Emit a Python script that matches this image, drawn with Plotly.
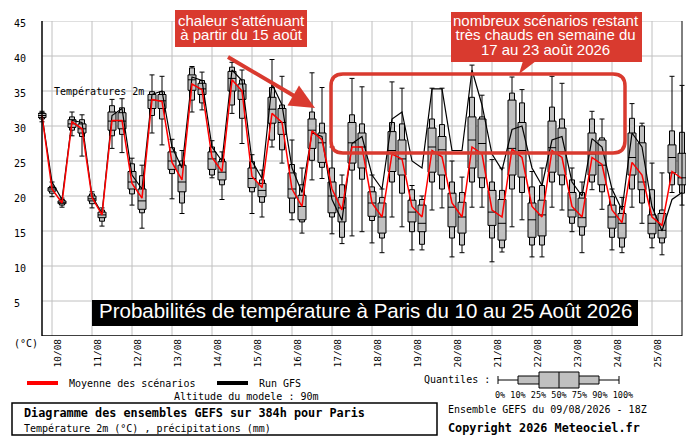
import plotly.graph_objects as go

# Ensemble GEFS du 09/08/2026 18Z, un quantile toutes les 6h (echeance en heures)
lead_h = list(range(0, 385, 6))

t_min = [30.6, 19.9, 18.4, 28.6, 25.7, 18.3, 15.7, 26.8, 26.2, 18.7, 15.4, 29.0, 27.3,
         19.6, 17.5, 32.0, 32.3, 22.6, 19.5, 31.8, 27.5, 17.5, 17.0, 27.0, 24.7, 16.6,
         14.7, 22.3, 22.5, 14.6, 13.2, 14.3, 14.9, 13.3, 11.9, 17.0, 15.6, 12.3, 12.3,
         18.0, 18.3, 11.3, 11.9, 18.4, 18.4, 10.6, 12.0, 15.6, 16.6, 11.3, 11.3, 18.4,
         18.0, 14.9, 11.9, 20.9, 18.1, 12.3, 11.9, 18.4, 16.1, 12.6, 11.6, 20.5, 18.7]
t_p10 = [31.0, 20.4, 18.7, 29.4, 28.5, 18.9, 16.4, 28.6, 28.8, 20.3, 17.6, 31.5, 31.0,
         23.2, 19.0, 33.7, 33.3, 23.0, 21.6, 33.0, 31.1, 20.6, 19.1, 28.0, 26.6, 17.6,
         16.3, 25.1, 24.1, 17.0, 14.1, 23.7, 22.4, 16.5, 14.0, 22.0, 20.4, 14.9, 13.1,
         22.0, 21.0, 14.0, 13.0, 22.0, 21.2, 14.0, 12.6, 21.0, 20.5, 13.0, 13.0, 22.0,
         21.6, 16.1, 14.4, 22.0, 20.6, 14.1, 12.7, 21.0, 19.0, 14.0, 13.3, 21.6, 20.4]
t_p25 = [31.2, 20.7, 18.9, 29.8, 29.0, 19.3, 16.9, 29.4, 29.6, 21.0, 18.1, 32.5, 32.5,
         23.8, 20.6, 35.1, 34.5, 23.8, 22.3, 35.0, 33.8, 21.2, 19.9, 30.4, 28.8, 19.7,
         16.6, 26.8, 24.8, 17.6, 16.3, 24.7, 24.0, 17.1, 14.7, 23.5, 23.0, 16.3, 14.9,
         23.4, 23.0, 15.6, 14.7, 24.0, 22.6, 15.8, 13.7, 23.0, 22.7, 14.1, 14.3, 23.4,
         23.0, 17.0, 15.6, 23.0, 21.6, 15.4, 14.0, 23.0, 20.9, 14.6, 14.0, 23.3, 21.6]
t_med = [31.5, 21.0, 19.1, 30.3, 29.6, 19.6, 17.3, 30.7, 30.7, 22.0, 19.3, 33.7, 33.6,
         25.0, 22.0, 36.6, 35.3, 25.3, 23.4, 36.8, 35.0, 22.5, 20.8, 32.4, 30.5, 21.0,
         18.5, 29.4, 27.6, 20.0, 18.3, 27.6, 27.0, 19.0, 17.0, 26.5, 25.3, 17.7, 16.1,
         27.0, 26.6, 18.4, 17.0, 28.0, 27.5, 17.7, 16.1, 26.8, 26.5, 16.6, 17.3, 26.9,
         26.3, 18.0, 16.9, 26.0, 24.4, 17.0, 16.1, 25.5, 22.0, 16.1, 15.1, 25.5, 22.6]
t_p75 = [31.8, 21.2, 19.3, 30.9, 30.3, 20.0, 17.7, 32.0, 31.9, 23.5, 21.0, 34.5, 34.5,
         26.3, 24.4, 37.3, 36.1, 26.3, 24.9, 37.8, 36.0, 24.0, 21.8, 34.1, 32.5, 23.3,
         20.1, 31.0, 29.0, 22.0, 19.8, 30.5, 29.0, 20.6, 19.0, 29.2, 28.0, 19.4, 18.7,
         29.7, 28.5, 20.4, 19.1, 31.3, 31.0, 20.8, 19.5, 33.7, 30.5, 19.0, 19.4, 30.7,
         29.7, 20.5, 19.7, 29.0, 28.0, 18.7, 17.5, 29.0, 27.6, 17.3, 17.5, 27.3, 26.1]
t_p90 = [31.9, 21.4, 19.5, 31.3, 30.9, 20.3, 18.0, 32.9, 32.6, 24.6, 22.9, 34.9, 34.9,
         26.9, 25.0, 38.3, 36.5, 27.0, 25.3, 38.4, 36.6, 24.9, 22.3, 35.5, 33.0, 24.5,
         21.6, 32.0, 30.4, 24.0, 21.6, 31.6, 30.3, 21.3, 19.8, 30.5, 30.3, 20.9, 19.5,
         31.0, 30.2, 22.0, 20.5, 34.1, 31.3, 22.0, 20.8, 34.7, 33.3, 21.3, 21.5, 32.7,
         31.0, 22.3, 20.5, 31.0, 28.3, 19.9, 18.5, 31.1, 30.0, 20.9, 18.0, 29.3, 29.1]
t_max = [32.1, 22.0, 19.7, 32.0, 31.6, 20.6, 18.3, 33.8, 33.9, 25.4, 24.4, 37.3, 37.1,
         28.1, 26.5, 38.5, 37.7, 27.9, 26.3, 39.1, 38.0, 25.9, 23.7, 39.5, 37.1, 28.0,
         24.0, 37.6, 35.5, 27.0, 23.0, 36.8, 35.6, 23.0, 21.0, 36.3, 35.4, 21.5, 20.0,
         35.4, 35.4, 25.0, 22.7, 38.7, 34.4, 25.2, 24.0, 37.0, 35.2, 23.5, 24.0, 37.1,
         36.1, 24.0, 22.0, 32.1, 31.0, 21.0, 19.8, 33.2, 30.4, 24.7, 23.3, 37.1, 35.8]

# moyenne des scenarios et run deterministe GFS
t_mean = [31.5, 21.0, 19.0, 30.6, 29.6, 19.8, 17.3, 30.8, 30.8, 21.8, 19.7, 33.8, 33.5,
          24.8, 22.3, 36.0, 35.2, 25.5, 23.5, 36.6, 35.0, 22.8, 21.2, 31.8, 30.5, 21.0,
          18.5, 29.3, 28.0, 21.0, 18.0, 27.0, 27.0, 19.0, 17.0, 26.0, 25.3, 18.5, 17.0,
          26.5, 25.6, 19.0, 17.0, 27.0, 26.0, 18.0, 17.0, 26.7, 25.5, 18.5, 17.0, 26.5,
          25.5, 18.5, 17.0, 25.5, 24.5, 18.0, 16.2, 24.8, 23.0, 17.0, 15.8, 23.5, 22.5]
t_gfs = [31.5, 22.0, 19.5, 30.8, 30.5, 20.0, 17.5, 31.5, 32.5, 23.0, 21.0, 34.5, 35.0,
         27.0, 24.0, 37.0, 36.5, 27.0, 25.0, 38.0, 36.5, 25.0, 22.5, 36.0, 33.0, 24.0,
         20.5, 29.0, 28.5, 19.5, 16.5, 27.5, 28.5, 23.0, 21.0, 31.0, 32.0, 25.0, 24.0,
         35.3, 35.3, 26.5, 26.5, 38.0, 33.0, 26.0, 23.7, 29.5, 30.0, 24.0, 21.5, 28.0,
         28.5, 22.0, 20.0, 28.2, 27.0, 21.0, 18.0, 29.0, 27.0, 18.5, 15.0, 19.5, 20.5]

day_labels = ["10/08", "11/08", "12/08", "13/08", "14/08", "15/08", "16/08", "17/08",
              "18/08", "19/08", "20/08", "21/08", "22/08", "23/08", "24/08", "25/08"]
day_leads = [6 + 24 * k for k in range(len(day_labels))]
y_ticks = [5, 10, 15, 20, 25, 30, 35, 40, 45]

# geometrie de la page (pixels)
W, H = 700, 436
ML, MR, MT, MB = 38, 14, 21, 100
PW, PH = W - ML - MR, H - MT - MB
RED = "#d93a2f"
MONO = "DejaVu Sans Mono"
SANS = "Liberation Sans, Arial, sans-serif"


def px(x):
    return (x - ML) / PW


def py(y):
    return (H - MB - y) / PH


def path(points):
    return "M " + " L ".join(f"{px(x):.5f},{py(y):.5f}" for x, y in points) + " Z"


def rounded_rect(x0, y0, x1, y1, r):
    p = lambda x, y: f"{px(x):.5f},{py(y):.5f}"
    return (f"M {p(x0 + r, y0)} L {p(x1 - r, y0)} Q {p(x1, y0)} {p(x1, y0 + r)} "
            f"L {p(x1, y1 - r)} Q {p(x1, y1)} {p(x1 - r, y1)} L {p(x0 + r, y1)} "
            f"Q {p(x0, y1)} {p(x0, y1 - r)} L {p(x0, y0 + r)} Q {p(x0, y0)} {p(x0 + r, y0)} Z")


hpp = 388.8 / PW  # heures par pixel
cap, half_wide = 2.5 * hpp, 4 * hpp

# moustaches, capuchons et medianes
sx, sy = [], []
for h, lo, a, b, hi, md in zip(lead_h, t_min, t_p10, t_p90, t_max, t_med):
    sx += [h, h, None, h, h, None, h - cap, h + cap, None, h - cap, h + cap, None,
           h - half_wide, h + half_wide, None]
    sy += [lo, a, None, b, hi, None, lo, lo, None, hi, hi, None, md, md, None]

fig = go.Figure()
fig.add_trace(go.Bar(x=lead_h, y=[b - a for a, b in zip(t_p10, t_p90)], base=t_p10,
                     width=5 * hpp, marker=dict(color="#c0c0c0", line=dict(color="black", width=1))))
fig.add_trace(go.Bar(x=lead_h, y=[b - a for a, b in zip(t_p25, t_p75)], base=t_p25,
                     width=8 * hpp, marker=dict(color="#c0c0c0", line=dict(color="black", width=1))))
fig.add_trace(go.Scatter(x=sx, y=sy, mode="lines", line=dict(color="black", width=1)))
fig.add_trace(go.Scatter(x=lead_h, y=t_gfs, mode="lines", line=dict(color="black", width=1.2)))
fig.add_trace(go.Scatter(x=lead_h, y=t_mean, mode="lines", line=dict(color="#ff0000", width=1.5)))

shapes = []
# grille
for v in y_ticks:
    shapes.append(dict(type="line", x0=0, x1=384, y0=v, y1=v, xref="x", yref="y",
                       line=dict(color="#c0c0c0", width=1), layer="below"))
for d in day_leads:
    shapes.append(dict(type="line", x0=d, x1=d, y0=0, y1=45, xref="x", yref="y",
                       line=dict(color="#c0c0c0", width=1), layer="below"))
# axes
shapes += [
    dict(type="line", x0=0, x1=0, y0=0, y1=45, xref="x", yref="y", line=dict(color="black", width=1.5)),
    dict(type="line", x0=384, x1=384, y0=0, y1=45, xref="x", yref="y", line=dict(color="black", width=1)),
    dict(type="line", x0=0, x1=384, y0=0, y1=0, xref="x", yref="y", line=dict(color="black", width=1.5)),
]
# titre sur fond noir
shapes.append(dict(type="rect", xref="paper", yref="paper", x0=px(92), x1=px(638), y0=py(326), y1=py(300),
                   fillcolor="black", line=dict(width=0), layer="above"))
# bulles rouges
shapes.append(dict(type="rect", xref="paper", yref="paper", x0=px(175), x1=px(307), y0=py(47), y1=py(10),
                   fillcolor=RED, line=dict(width=0), layer="above"))
shapes.append(dict(type="rect", xref="paper", yref="paper", x0=px(451), x1=px(642), y0=py(62), y1=py(12),
                   fillcolor=RED, line=dict(width=0), layer="above"))
shapes.append(dict(type="path", xref="paper", yref="paper", path=path([(523, 61), (536, 61), (519, 74)]),
                   fillcolor=RED, line=dict(width=0), layer="above"))
shapes.append(dict(type="path", xref="paper", yref="paper", path=rounded_rect(331, 74, 625, 153, 12),
                   line=dict(color=RED, width=3.5), layer="above"))
# fleche
shapes.append(dict(type="line", xref="paper", yref="paper", x0=px(228), y0=py(57), x1=px(296), y1=py(97),
                   line=dict(color=RED, width=4), layer="above"))
shapes.append(dict(type="path", xref="paper", yref="paper",
                   path=path([(315, 108), (287.5, 105.5), (299, 85.5)]),
                   fillcolor=RED, line=dict(width=0), layer="above"))
# legende
shapes += [
    dict(type="line", xref="paper", yref="paper", x0=px(27), x1=px(58), y0=py(383), y1=py(383),
         line=dict(color="#ff0000", width=4)),
    dict(type="line", xref="paper", yref="paper", x0=px(217), x1=px(248), y0=py(383), y1=py(383),
         line=dict(color="black", width=4)),
    dict(type="line", xref="paper", yref="paper", x0=px(498), x1=px(619), y0=py(380), y1=py(380),
         line=dict(color="black", width=1)),
    dict(type="line", xref="paper", yref="paper", x0=px(498), x1=px(498), y0=py(376), y1=py(384),
         line=dict(color="black", width=1)),
    dict(type="line", xref="paper", yref="paper", x0=px(619), x1=px(619), y0=py(376), y1=py(384),
         line=dict(color="black", width=1)),
    dict(type="rect", xref="paper", yref="paper", x0=px(518), x1=px(599), y0=py(384), y1=py(376),
         fillcolor="#c0c0c0", line=dict(color="black", width=1)),
    dict(type="rect", xref="paper", yref="paper", x0=px(539), x1=px(579), y0=py(388), y1=py(372),
         fillcolor="#c0c0c0", line=dict(color="black", width=1)),
    dict(type="line", xref="paper", yref="paper", x0=px(559), x1=px(559), y0=py(372), y1=py(388),
         line=dict(color="black", width=1)),
    dict(type="rect", xref="paper", yref="paper", x0=px(12), x1=px(437), y0=py(435), y1=py(403),
         line=dict(color="black", width=1.5)),
]

ann = []


def text(x, y, s, size=10, family=MONO, color="black", anchor="left", bold=False):
    ann.append(dict(xref="paper", yref="paper", x=px(x), y=py(y), text=f"<b>{s}</b>" if bold else s,
                    showarrow=False, xanchor=anchor, yanchor="middle",
                    font=dict(family=family, size=size, color=color)))


def bubble(x, y, lines):
    # interligne serre : la taille de base fixe l'interligne (1.3 x 11.15 = 14.5 px),
    # les glyphes restent en 15 px
    s = "<br>".join(f"<span style='font-size:15px'>{t}</span>" for t in lines)
    text(x, y, s, size=11.15, family=SANS, color="white", anchor="center")


for v in y_ticks:
    ann.append(dict(xref="paper", yref="y", x=px(12), y=v, yshift=-2, text=str(v), showarrow=False,
                    xanchor="left", yanchor="middle", font=dict(family=MONO, size=10, color="black")))
text(12, 343, "(°C)")
text(52, 92, "Températures 2m")
text(365, 310, "Probabilités de température à Paris du 10 au 25 Août 2026", size=20.5, family=SANS,
     color="white", anchor="center")
bubble(241, 27.8, ["chaleur s'atténuant", "à partir du 15 août"])
bubble(546, 35.1, ["nombreux scénarios restant", "très chauds en semaine du", "17 au 23 août 2026"])
text(67, 383, "Moyenne des scénarios")
text(257, 383, "Run GFS")
text(172, 396, "Altitude du modele : 90m")
text(422, 379, "Quantiles :")
text(493, 395, "0% 10% 25% 50% 75% 90% 100%", size=8.5)
text(22, 413, "Diagramme des ensembles GEFS sur 384h pour Paris", size=11.8, bold=True)
text(22, 428, "Température 2m (°C) , précipitations (mm)")
text(446, 409, "Ensemble GEFS du 09/08/2026 - 18Z")
text(446, 428, "Copyright 2026 Meteociel.fr", size=11.8, bold=True)

fig.update_layout(
    width=W, height=H, margin=dict(l=ML, r=MR, t=MT, b=MB),
    paper_bgcolor="white", plot_bgcolor="white",
    barmode="overlay", showlegend=False, hovermode=False,
    shapes=shapes, annotations=ann,
    xaxis=dict(range=[-2.4, 386.4], showgrid=False, zeroline=False, showline=False,
               tickmode="array", tickvals=[d + 3.3 for d in day_leads], ticktext=day_labels,
               tickangle=-90, ticks="", tickfont=dict(family=MONO, size=9.5, color="black")),
    yaxis=dict(range=[0, 45], showgrid=False, zeroline=False, showline=False, showticklabels=False),
)

# page sans marge pour que la figure occupe toute la fenetre
fig.write_html("out.html", config={"displayModeBar": False},
               post_script="document.body.style.margin='0px';")
